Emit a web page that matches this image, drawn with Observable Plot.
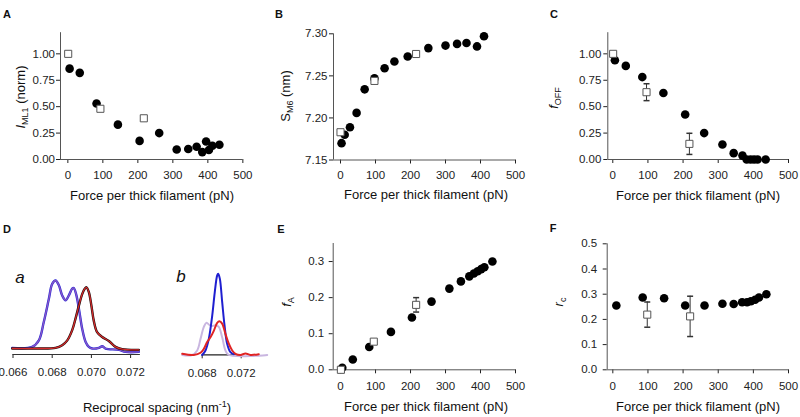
<!DOCTYPE html>
<html>
<head>
<meta charset="utf-8">
<script src="https://cdn.jsdelivr.net/npm/d3@7"></script>
<script src="https://cdn.jsdelivr.net/npm/@observablehq/plot@0.6"></script>
<style>
  body { margin: 0; background: #fff; }
  #root { position: relative; width: 800px; height: 417px; overflow: hidden; font-family: 'Liberation Sans', Arial, Helvetica, sans-serif; color: #111; }
  .t { position: absolute; white-space: nowrap; transform: translate(-50%, -50%); font-size: 13px; line-height: 1; }
  .rot { transform: translate(-50%, -50%) rotate(-90deg); }
  .let { position: absolute; font-weight: bold; font-size: 11px; transform: translate(-50%, -50%); line-height: 1; }
  .it { position: absolute; font-style: italic; font-size: 17px; transform: translate(-50%, -50%); line-height: 1; }
  sub { font-size: 9px; vertical-align: -3px; line-height: 0; }
  sup { font-size: 9px; vertical-align: 5px; line-height: 0; }
</style>
</head>
<body>
<div id="root"></div>
<script>
// ---------- DATA ----------
const forceTicks = [0, 100, 200, 300, 400, 500];

// Panel A: I_ML1 (norm)
const aForce = [5, 34, 82, 143, 205, 261, 311, 344, 368, 384, 395, 403, 413, 433];
const aIml = [0.86, 0.82, 0.53, 0.33, 0.176, 0.25, 0.094, 0.10, 0.12, 0.07, 0.17, 0.09, 0.13, 0.14];
const aSqForce = [1, 93, 217];
const aSqIml = [1.0, 0.48, 0.39];
const aYTicks = [0, 0.25, 0.5, 0.75, 1.0];

// Panel B: S_M6 (nm)
const bForce = [3, 12, 27, 46, 69, 97, 126, 154, 192, 251, 300, 333, 360, 390, 410];
const bSm6 = [7.170, 7.180, 7.189, 7.206, 7.234, 7.247, 7.259, 7.267, 7.273, 7.283, 7.286, 7.288, 7.289, 7.285, 7.297];
const bSqForce = [0, 97, 216];
const bSqSm6 = [7.183, 7.244, 7.276];
const bYTicks = [7.15, 7.20, 7.25, 7.30];

// Panel C: f_OFF
const cForce = [6, 37, 84, 144, 206, 260, 312, 344, 369, 381, 392, 402, 412, 435];
const cFoff = [0.94, 0.886, 0.78, 0.63, 0.426, 0.25, 0.142, 0.06, 0.037, 0, 0, 0, 0, 0];
const cSqForce = [1, 96, 218];
const cSqFoff = [1.0, 0.637, 0.148];
const cSqErr = [0, 0.08, 0.10];
const cYTicks = [0, 0.25, 0.5, 0.75, 1.0];

// Panel D: intensity profiles vs reciprocal spacing (nm^-1)
const daTicks = [0.066, 0.068, 0.070, 0.072];
const dbTicks = [0.068, 0.072];
const daBlueX = [0.06596, 0.06698, 0.06732, 0.06757, 0.06783, 0.06800, 0.06817, 0.06834, 0.06851, 0.06868, 0.06885, 0.06902, 0.06910, 0.06922, 0.06936, 0.06953, 0.06970, 0.06987, 0.07004, 0.07038, 0.07055, 0.07072, 0.07140, 0.07174, 0.07242];
const daBlueI = [0.01, 0.024, 0.12, 0.39, 0.73, 0.95, 1.0, 0.93, 0.78, 0.71, 0.78, 0.88, 0.89, 0.80, 0.59, 0.29, 0.10, 0.024, 0.0, 0.01, 0.034, 0.0, -0.02, -0.05, -0.05];
const daRedX = [0.06596, 0.06732, 0.06817, 0.06851, 0.06877, 0.06902, 0.06919, 0.06936, 0.06953, 0.06966, 0.06975, 0.06987, 0.07000, 0.07012, 0.07029, 0.07055, 0.07089, 0.07123, 0.07157, 0.07242];
const daRedI = [0.0, 0.0, 0.01, 0.049, 0.12, 0.27, 0.44, 0.63, 0.80, 0.88, 0.90, 0.83, 0.63, 0.41, 0.24, 0.17, 0.11, 0.024, -0.01, -0.02];

const dbBlueX = [0.06800, 0.06834, 0.06868, 0.06903, 0.06929, 0.06954, 0.06964, 0.06981, 0.07005, 0.07029, 0.07056, 0.07090, 0.07124];
const dbBlueI = [-0.01, 0.046, 0.19, 0.48, 0.77, 0.98, 1.0, 0.94, 0.65, 0.36, 0.13, 0.025, 0.0];
const dbRedX = [0.06595, 0.06714, 0.06783, 0.06817, 0.06851, 0.06885, 0.06919, 0.06954, 0.06977, 0.07005, 0.07039, 0.07073, 0.07108, 0.07142, 0.07193, 0.07244, 0.07295, 0.07381];
const dbRedI = [0.004, -0.01, 0.017, 0.066, 0.15, 0.21, 0.29, 0.39, 0.41, 0.38, 0.25, 0.13, 0.046, 0.004, -0.01, 0.008, -0.01, 0.0];
const dbLilacX = [0.06595, 0.06697, 0.06749, 0.06783, 0.06817, 0.06844, 0.06878, 0.06903, 0.06936, 0.06970, 0.07005, 0.07039, 0.07073, 0.07467];
const dbLilacI = [-0.01, -0.01, 0.046, 0.19, 0.34, 0.39, 0.36, 0.35, 0.36, 0.34, 0.21, 0.046, -0.01, -0.01];

// Panel E: f_A
const eForce = [5, 35, 82, 144, 204, 260, 311, 344, 368, 381, 392, 402, 411, 434];
const eFa = [0.0055, 0.0285, 0.063, 0.105, 0.145, 0.189, 0.225, 0.245, 0.259, 0.267, 0.273, 0.279, 0.284, 0.30];
const eSqForce = [1, 95, 216];
const eSqFa = [0.0, 0.078, 0.18];
const eSqErr = [0, 0, 0.02];
const eYTicks = [0, 0.1, 0.2, 0.3];

// Panel F: r_c
const fForce = [10, 85, 146, 206, 261, 312, 344, 368, 382, 393, 405, 416, 437];
const fRc = [0.255, 0.287, 0.284, 0.255, 0.255, 0.262, 0.261, 0.268, 0.268, 0.272, 0.278, 0.287, 0.30];
const fSqForce = [98, 220];
const fSqRc = [0.219, 0.212];
const fSqErr = [0.05, 0.08];
const fYTicks = [0, 0.1, 0.2, 0.3, 0.4, 0.5];

// ---------- HELPERS ----------
const font = "'Liberation Sans', Arial, Helvetica, sans-serif";
const root = document.getElementById("root");
const zip = (xs, ys, es) => xs.map((x, i) => ({x, y: ys[i], e: es ? es[i] : 0}));
const capSymbol = {draw(ctx, size) { const w = Math.sqrt(size / Math.PI); ctx.moveTo(-w, 0); ctx.lineTo(w, 0); }};
const axisColor = "#555";

function scatterMarks(circ, sq, xd, yd) {
  const withErr = sq.filter(d => d.e > 0);
  return [
    Plot.ruleX([xd[0]], {stroke: axisColor}),
    Plot.ruleY([yd[0]], {stroke: axisColor}),
    Plot.dot(circ, {x: "x", y: "y", r: 4.3, fill: "#000", stroke: "none"}),
    Plot.ruleX(withErr, {x: "x", y1: d => d.y - d.e, y2: d => d.y + d.e, stroke: "#333", strokeWidth: 1}),
    Plot.dot(withErr, {x: "x", y: d => d.y + d.e, symbol: capSymbol, r: 3, stroke: "#333", fill: "none"}),
    Plot.dot(withErr, {x: "x", y: d => d.y - d.e, symbol: capSymbol, r: 3, stroke: "#333", fill: "none"}),
    Plot.dot(sq, {x: "x", y: "y", symbol: "square", r: 4, fill: "#fff", stroke: "#555", strokeWidth: 1})
  ];
}

function mk(p) {
  const svg = Plot.plot({
    width: p.w, height: p.h,
    marginLeft: p.ml, marginRight: p.mr, marginTop: p.mt, marginBottom: p.mb,
    style: {background: "transparent", fontSize: "11.5px", fontFamily: font, color: "#222", overflow: "visible"},
    x: {domain: p.xd, ticks: p.xt, tickSize: 4, tickPadding: p.xpad, tickFormat: p.xf, label: null},
    y: p.yt ? {domain: p.yd, ticks: p.yt, tickSize: 4, tickPadding: p.ypad, tickFormat: p.yf, label: null}
            : {domain: p.yd, axis: null},
    marks: p.marks
  });
  svg.style.position = "absolute";
  svg.style.left = p.l + "px";
  svg.style.top = p.t + "px";
  svg.style.maxWidth = "none";
  root.appendChild(svg);
}

const fInt = d => String(d);
const f2 = d3.format(".2f"), f1 = d3.format(".1f"), f3 = d3.format(".3f");

// ---------- PANELS ----------
// A
{
  const xd = [-21, 500], yd = [0, 1.2];
  mk({l: 0, t: 0, w: 265, h: 205, ml: 60, mr: 22.65, mt: 32.2, mb: 46, xd, yd,
      xt: forceTicks, xf: fInt, xpad: 7, yt: aYTicks, yf: f2, ypad: 1.5,
      marks: scatterMarks(zip(aForce, aIml), zip(aSqForce, aSqIml), xd, yd)});
}
// B
{
  const xd = [-20, 500], yd = [7.15, 7.30];
  mk({l: 265, t: 0, w: 265, h: 205, ml: 68, mr: 15, mt: 33.3, mb: 45.5, xd, yd,
      xt: forceTicks, xf: fInt, xpad: 7, yt: bYTicks, yf: f2, ypad: 2,
      marks: scatterMarks(zip(bForce, bSm6), zip(bSqForce, bSqSm6), xd, yd)});
}
// C
{
  const xd = [-14.2, 500], yd = [0, 1.2];
  mk({l: 530, t: 0, w: 270, h: 205, ml: 77.3, mr: 12, mt: 32.2, mb: 46, xd, yd,
      xt: forceTicks, xf: fInt, xpad: 7, yt: cYTicks, yf: f2, ypad: 2.5,
      marks: scatterMarks(zip(cForce, cFoff), zip(cSqForce, cSqFoff, cSqErr), xd, yd)});
}
// D a
{
  const xd = [0.066, 0.0725], yd = [-0.088, 1];
  const c = "catmull-rom";
  mk({l: 0, t: 260, w: 150, h: 130, ml: 12.5, mr: 10.1, mt: 20, mb: 36, xd, yd,
      xt: daTicks, xf: f3, xpad: 9, yt: null,
      marks: [
        Plot.ruleY([yd[0]], {stroke: "#333"}),
        Plot.line(zip(daBlueX, daBlueI), {x: "x", y: "y", stroke: "#2a2ad8", strokeWidth: 2.4, curve: c}),
        Plot.line(zip(daBlueX, daBlueI), {x: "x", y: "y", stroke: "#8a58c6", strokeWidth: 1.3, curve: c}),
        Plot.line(zip(daRedX, daRedI), {x: "x", y: "y", stroke: "#1a0a0a", strokeWidth: 2.4, curve: c}),
        Plot.line(zip(daRedX, daRedI), {x: "x", y: "y", stroke: "#d42a2a", strokeWidth: 1.3, curve: c})
      ]});
}
// D b
{
  const xd = [0.06595, 0.07467], yd = [-0.008, 1];
  const c = "catmull-rom";
  mk({l: 170, t: 260, w: 110, h: 130, ml: 11.7, mr: 13.3, mt: 13.3, mb: 35.7, xd, yd,
      xt: dbTicks, xf: f3, xpad: 10, yt: null,
      marks: [
        Plot.ruleY([yd[0]], {x1: dbTicks[0], x2: dbTicks[dbTicks.length - 1], stroke: "#222", strokeWidth: 1.2}),
        Plot.line(zip(dbLilacX, dbLilacI), {x: "x", y: "y", stroke: "#c9b6e0", strokeWidth: 2, curve: c}),
        Plot.line(zip(dbBlueX, dbBlueI), {x: "x", y: "y", stroke: "#1f1fd0", strokeWidth: 2, curve: c}),
        Plot.line(zip(dbRedX, dbRedI), {x: "x", y: "y", stroke: "#e02424", strokeWidth: 2, curve: c})
      ]});
}
// E
{
  const xd = [-21, 500], yd = [0, 0.35];
  mk({l: 265, t: 205, w: 265, h: 212, ml: 67.7, mr: 15, mt: 38, mb: 47.7, xd, yd,
      xt: forceTicks, xf: fInt, xpad: 8, yt: eYTicks, yf: f1, ypad: 5,
      marks: scatterMarks(zip(eForce, eFa), zip(eSqForce, eSqFa, eSqErr), xd, yd)});
}
// F
{
  const xd = [-16, 500], yd = [0, 0.5];
  mk({l: 530, t: 205, w: 270, h: 212, ml: 76.7, mr: 12, mt: 38.3, mb: 47.7, xd, yd,
      xt: forceTicks, xf: fInt, xpad: 8, yt: fYTicks, yf: f1, ypad: 6,
      marks: scatterMarks(zip(fForce, fRc), zip(fSqForce, fSqRc, fSqErr), xd, yd)});
}

// ---------- TEXT LABELS ----------
const labels = [
  ["let", 7, 14, "A"], ["let", 279, 14, "B"], ["let", 554, 14, "C"],
  ["let", 7, 229, "D"], ["let", 281, 229, "E"], ["let", 553, 228, "F"],
  ["it", 20, 277, "a"], ["it", 181, 276, "b"],
  ["t", 152, 195, "Force per thick filament (pN)"],
  ["t", 426, 194, "Force per thick filament (pN)"],
  ["t", 698, 195, "Force per thick filament (pN)"],
  ["t", 426, 406, "Force per thick filament (pN)"],
  ["t", 698, 406, "Force per thick filament (pN)"],
  ["t", 157, 407, "Reciprocal spacing (nm<sup>-1</sup>)"],
  ["t rot", 20, 97, "<i>I</i><sub>ML1</sub> (norm)"],
  ["t rot", 285, 96, "S<sub>M6</sub> (nm)"],
  ["t rot", 553, 98, "<i>f</i><sub>OFF</sub>"],
  ["t rot", 286, 302, "<i>f</i><sub>A</sub>"],
  ["t rot", 558, 302, "<i>r</i><sub>c</sub>"]
];
for (const [cls, x, y, html] of labels) {
  const d = document.createElement("div");
  d.className = cls;
  d.style.left = x + "px";
  d.style.top = y + "px";
  d.innerHTML = html;
  root.appendChild(d);
}
</script>
</body>
</html>
